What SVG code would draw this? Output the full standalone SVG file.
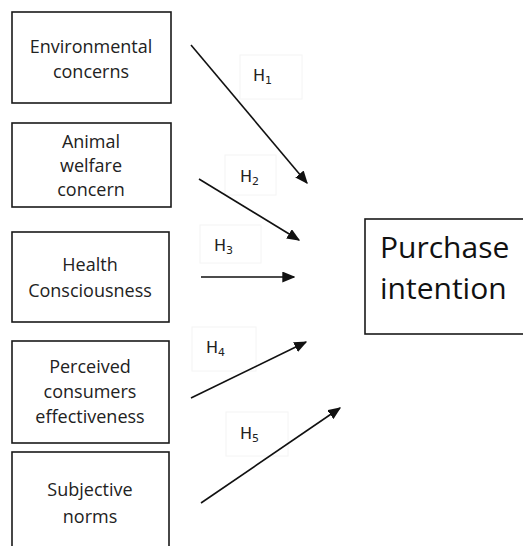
<svg xmlns="http://www.w3.org/2000/svg" width="523" height="546" viewBox="0 0 523 546">
<style>
.box{fill:#fff;stroke:#1a1a1a;stroke-width:1.6}
.t{font-family:"Open Sans","Noto Sans",sans-serif;font-size:18px;fill:#222;text-anchor:middle}
.big{font-family:"Open Sans","Noto Sans",sans-serif;font-size:30px;fill:#111}
.h{font-family:"DejaVu Sans","Noto Sans",sans-serif;font-size:16px;fill:#222}
.sub{font-size:11px}
.lb{fill:none;stroke:#f4f4f4;stroke-width:1}
.ar{stroke:#111;stroke-width:1.6;fill:none;marker-end:url(#ah)}
</style>
<defs>
<marker id="ah" viewBox="0 0 10 10" refX="9" refY="5" markerWidth="13" markerHeight="11" markerUnits="userSpaceOnUse" orient="auto" preserveAspectRatio="none">
<path d="M0,0 L10,5 L0,10 z" fill="#111"/>
</marker>
</defs>
<rect width="523" height="546" fill="#fff"/>
<g id="n1"><rect class="box" x="12" y="12" width="159" height="91"/><text class="t" x="91" y="53">Environmental</text><text class="t" x="91" y="78">concerns</text></g>
<g id="n2"><rect class="box" x="12" y="123" width="159" height="84"/><text class="t" x="91" y="148">Animal</text><text class="t" x="91" y="172">welfare</text><text class="t" x="91" y="196">concern</text></g>
<g id="n3"><rect class="box" x="12" y="232" width="157" height="90"/><text class="t" x="90" y="271">Health</text><text class="t" x="90" y="297">Consciousness</text></g>
<g id="n4"><rect class="box" x="12" y="341" width="157" height="102"/><text class="t" x="90" y="373">Perceived</text><text class="t" x="90" y="398">consumers</text><text class="t" x="90" y="423">effectiveness</text></g>
<g id="n5"><rect class="box" x="12" y="452" width="157" height="100"/><text class="t" x="90" y="496">Subjective</text><text class="t" x="90" y="523">norms</text></g>
<g id="n6"><rect class="box" x="365" y="219" width="170" height="115"/><text class="big" x="380" y="258">Purchase</text><text class="big" x="380" y="299">intention</text></g>
<g id="labels">
<rect class="lb" x="240" y="55" width="62" height="44"/>
<text class="h" x="253" y="81">H<tspan class="sub" dy="3">1</tspan></text>
<rect class="lb" x="225" y="155" width="51" height="40"/>
<text class="h" x="240" y="182">H<tspan class="sub" dy="3">2</tspan></text>
<rect class="lb" x="200" y="225" width="61" height="38"/>
<text class="h" x="214" y="251">H<tspan class="sub" dy="3">3</tspan></text>
<rect class="lb" x="192" y="327" width="64" height="44"/>
<text class="h" x="206" y="353">H<tspan class="sub" dy="3">4</tspan></text>
<rect class="lb" x="226" y="412" width="62" height="44"/>
<text class="h" x="240" y="439">H<tspan class="sub" dy="3">5</tspan></text>
</g>
<g id="connectors">
<line class="ar" x1="191" y1="45" x2="307" y2="183"/>
<line class="ar" x1="199" y1="179" x2="299" y2="240"/>
<line class="ar" x1="201" y1="277" x2="294" y2="277"/>
<line class="ar" x1="191" y1="398" x2="306" y2="342"/>
<line class="ar" x1="201" y1="503" x2="340" y2="408"/>
</g>
</svg>
